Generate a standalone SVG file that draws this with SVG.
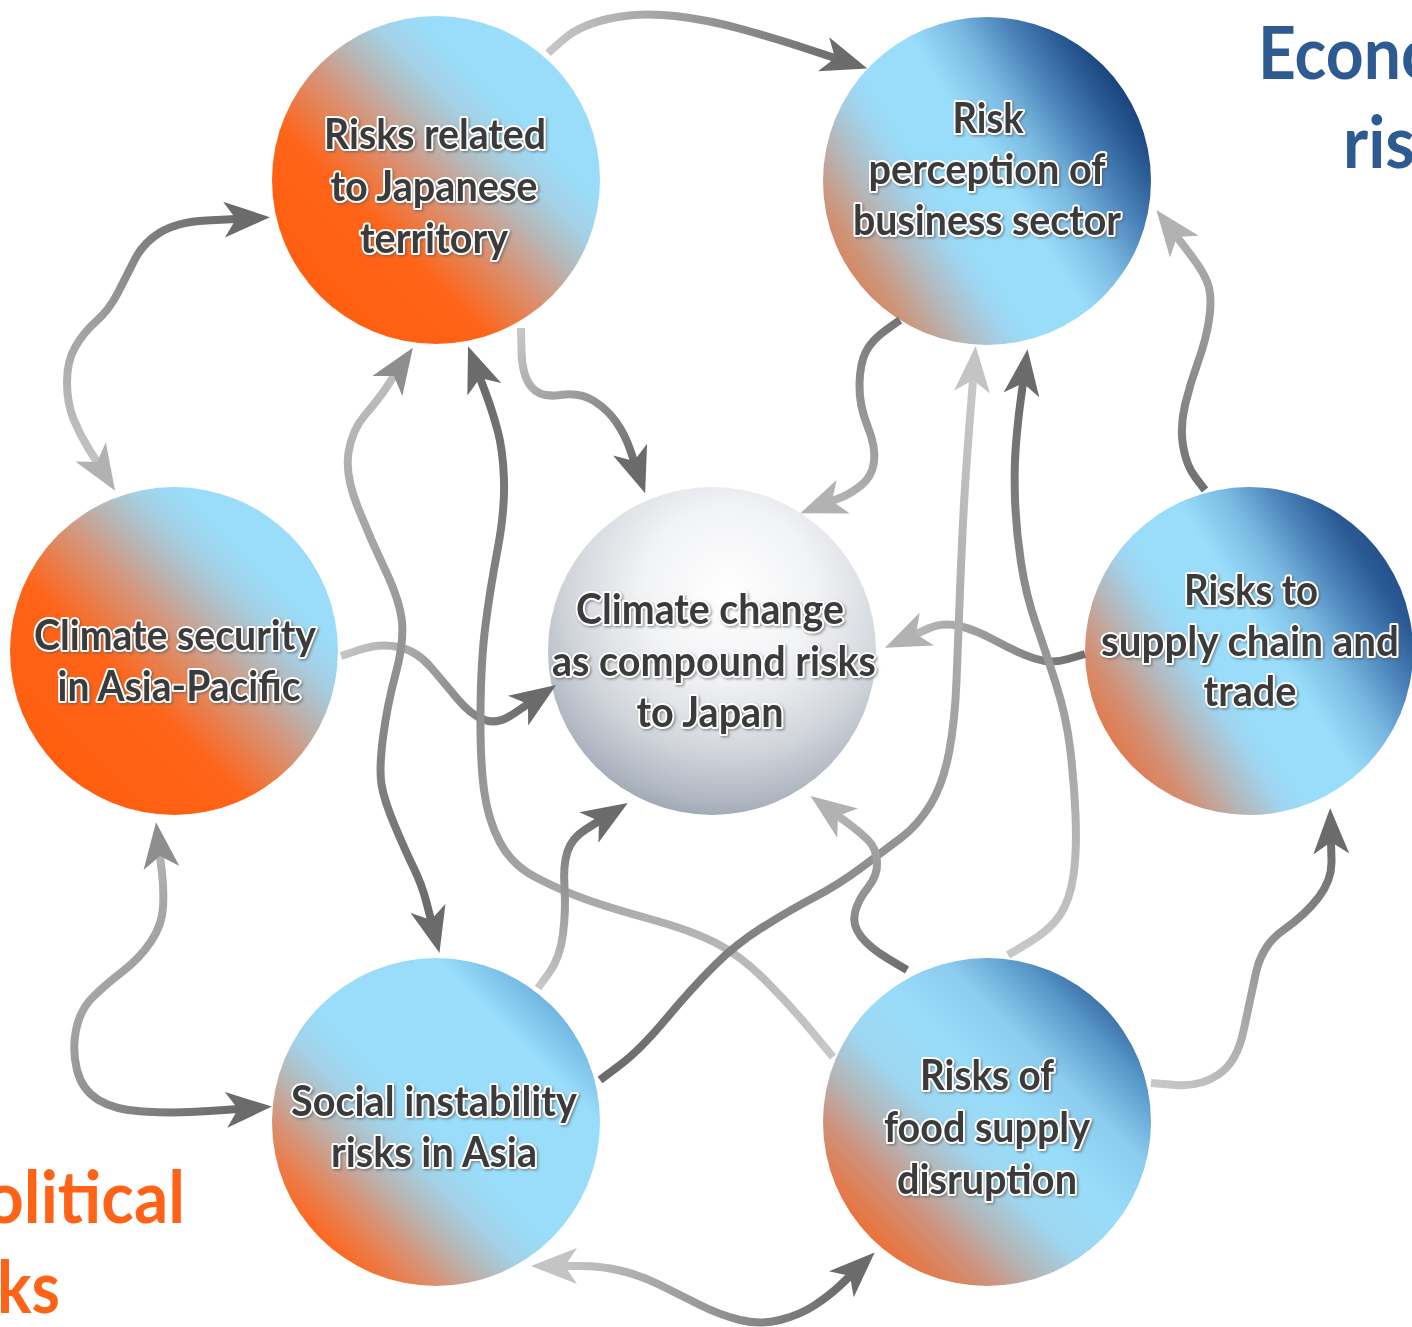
<svg xmlns="http://www.w3.org/2000/svg" width="1412" height="1327" viewBox="0 0 1412 1327">
<style>
.lbl{font-family:Lato,"Liberation Sans",sans-serif;font-weight:700;font-size:42px;fill:#3B3B3B;stroke:#FFFFFF;stroke-width:4px;paint-order:stroke;stroke-linejoin:round;text-anchor:middle}
.big{font-family:Lato,"Liberation Sans",sans-serif;font-weight:700;font-size:72px}
.conn{fill:none;stroke-width:8;stroke-linecap:butt;stroke-linejoin:round}
</style>
<defs>
<filter id="ts" x="-10%" y="-30%" width="120%" height="160%"><feDropShadow dx="1.5" dy="1.5" stdDeviation="1.2" flood-color="#555555" flood-opacity="0.55"/></filter>
<linearGradient id="gJT" x1="0" y1="1" x2="1" y2="0"><stop offset="0" stop-color="#FF5A0A"/><stop offset="0.34" stop-color="#FF6418"/><stop offset="0.47" stop-color="#DA9070"/><stop offset="0.56" stop-color="#B9B4B2"/><stop offset="0.64" stop-color="#A5D0E4"/><stop offset="0.72" stop-color="#99DDFA"/><stop offset="1" stop-color="#99DDFA"/></linearGradient>
<linearGradient id="gCS" x1="0" y1="1" x2="1" y2="0"><stop offset="0" stop-color="#FF5A0A"/><stop offset="0.38" stop-color="#FF6418"/><stop offset="0.51" stop-color="#DA9070"/><stop offset="0.6" stop-color="#B9B3B0"/><stop offset="0.68" stop-color="#A5CFE3"/><stop offset="0.76" stop-color="#99DDFA"/><stop offset="1" stop-color="#99DDFA"/></linearGradient>
<linearGradient id="gSI" x1="0" y1="1" x2="1" y2="0"><stop offset="0" stop-color="#FF5A0A"/><stop offset="0.14" stop-color="#FF6418"/><stop offset="0.25" stop-color="#DA9070"/><stop offset="0.33" stop-color="#B8B4B2"/><stop offset="0.41" stop-color="#A2D2E8"/><stop offset="0.49" stop-color="#99DDFA"/><stop offset="0.75" stop-color="#99DDFA"/><stop offset="0.86" stop-color="#6EB4E0"/><stop offset="1" stop-color="#5AA0D4"/></linearGradient>
<linearGradient id="gFS" x1="0" y1="1" x2="1" y2="0"><stop offset="0" stop-color="#FF5A0A"/><stop offset="0.12" stop-color="#F26A2A"/><stop offset="0.25" stop-color="#D09078"/><stop offset="0.34" stop-color="#B4B6B8"/><stop offset="0.43" stop-color="#9ED6F0"/><stop offset="0.55" stop-color="#99DDFA"/><stop offset="0.68" stop-color="#8CCCEE"/><stop offset="0.79" stop-color="#5A9ACB"/><stop offset="0.89" stop-color="#2F5F98"/><stop offset="1" stop-color="#1C3F75"/></linearGradient>
<linearGradient id="gRP" x1="0" y1="0.75" x2="1" y2="0.1"><stop offset="0" stop-color="#DC7E50"/><stop offset="0.09" stop-color="#CE9478"/><stop offset="0.19" stop-color="#B5B7BA"/><stop offset="0.29" stop-color="#A0D4EE"/><stop offset="0.35" stop-color="#99DDFA"/><stop offset="0.5" stop-color="#99DDFA"/><stop offset="0.62" stop-color="#79B8E0"/><stop offset="0.72" stop-color="#4D86BC"/><stop offset="0.82" stop-color="#2A5A94"/><stop offset="0.9" stop-color="#173E78"/><stop offset="1" stop-color="#143872"/></linearGradient>
<linearGradient id="gSC" x1="0" y1="0.75" x2="1" y2="0.1"><stop offset="0" stop-color="#E8703A"/><stop offset="0.12" stop-color="#D48E72"/><stop offset="0.22" stop-color="#B7B4B4"/><stop offset="0.32" stop-color="#A0D4EE"/><stop offset="0.38" stop-color="#99DDFA"/><stop offset="0.52" stop-color="#99DDFA"/><stop offset="0.64" stop-color="#79B8E0"/><stop offset="0.74" stop-color="#4D86BC"/><stop offset="0.84" stop-color="#2A5A94"/><stop offset="1" stop-color="#173E78"/></linearGradient>
<radialGradient id="gCC" cx="0.55" cy="0.32" r="0.75" fx="0.55" fy="0.32"><stop offset="0" stop-color="#FFFFFF"/><stop offset="0.35" stop-color="#F2F3F5"/><stop offset="0.65" stop-color="#D2D6DC"/><stop offset="0.85" stop-color="#B0B7C2"/><stop offset="1" stop-color="#8E98A8"/></radialGradient>
<linearGradient id="s1" gradientUnits="userSpaceOnUse" x1="548" y1="53" x2="835" y2="58"><stop offset="0" stop-color="#C6C6C6"/><stop offset="1" stop-color="#6E6E6E"/></linearGradient>
<linearGradient id="s2" gradientUnits="userSpaceOnUse" x1="97" y1="462" x2="236" y2="219"><stop offset="0" stop-color="#C2C2C2"/><stop offset="1" stop-color="#6E6E6E"/></linearGradient>
<linearGradient id="s3" gradientUnits="userSpaceOnUse" x1="521" y1="328" x2="634" y2="461"><stop offset="0" stop-color="#C8C8C8"/><stop offset="1" stop-color="#6E6E6E"/></linearGradient>
<linearGradient id="s4" gradientUnits="userSpaceOnUse" x1="900" y1="320" x2="832" y2="501"><stop offset="0" stop-color="#747474"/><stop offset="1" stop-color="#B4B4B4"/></linearGradient>
<linearGradient id="s5" gradientUnits="userSpaceOnUse" x1="341" y1="656" x2="528" y2="704"><stop offset="0" stop-color="#C6C6C6"/><stop offset="1" stop-color="#6E6E6E"/></linearGradient>
<linearGradient id="s6" gradientUnits="userSpaceOnUse" x1="1085" y1="654" x2="916" y2="634"><stop offset="0" stop-color="#6E6E6E"/><stop offset="1" stop-color="#B8B8B8"/></linearGradient>
<linearGradient id="s7" gradientUnits="userSpaceOnUse" x1="1205" y1="490" x2="1177" y2="237"><stop offset="0" stop-color="#707070"/><stop offset="1" stop-color="#B0B0B0"/></linearGradient>
<linearGradient id="s8" gradientUnits="userSpaceOnUse" x1="394" y1="376" x2="431" y2="920"><stop offset="0" stop-color="#BDBDBD"/><stop offset="1" stop-color="#6A6A6A"/></linearGradient>
<linearGradient id="s9" gradientUnits="userSpaceOnUse" x1="833" y1="1057" x2="480" y2="378"><stop offset="0" stop-color="#C8C8C8"/><stop offset="1" stop-color="#6A6A6A"/></linearGradient>
<linearGradient id="s10" gradientUnits="userSpaceOnUse" x1="538" y1="988" x2="599" y2="821"><stop offset="0" stop-color="#C8C8C8"/><stop offset="1" stop-color="#6E6E6E"/></linearGradient>
<linearGradient id="s11" gradientUnits="userSpaceOnUse" x1="600" y1="1080" x2="973" y2="380"><stop offset="0" stop-color="#6A6A6A"/><stop offset="1" stop-color="#C8C8C8"/></linearGradient>
<linearGradient id="s12" gradientUnits="userSpaceOnUse" x1="1008" y1="955" x2="1023" y2="383"><stop offset="0" stop-color="#C8C8C8"/><stop offset="1" stop-color="#6A6A6A"/></linearGradient>
<linearGradient id="s13" gradientUnits="userSpaceOnUse" x1="907" y1="970" x2="838" y2="816"><stop offset="0" stop-color="#6E6E6E"/><stop offset="1" stop-color="#B4B4B4"/></linearGradient>
<linearGradient id="s14" gradientUnits="userSpaceOnUse" x1="1151" y1="1083" x2="1331" y2="842"><stop offset="0" stop-color="#C8C8C8"/><stop offset="1" stop-color="#6E6E6E"/></linearGradient>
<linearGradient id="s15" gradientUnits="userSpaceOnUse" x1="565" y1="1266" x2="850" y2="1276"><stop offset="0" stop-color="#C4C4C4"/><stop offset="1" stop-color="#6A6A6A"/></linearGradient>
<linearGradient id="s16" gradientUnits="userSpaceOnUse" x1="60" y1="950" x2="240" y2="1110"><stop offset="0" stop-color="#B6B6B6"/><stop offset="1" stop-color="#6A6A6A"/></linearGradient>
<marker id="aD" viewBox="0 0 46 36" markerWidth="46" markerHeight="36" refX="12" refY="18" orient="auto-start-reverse" markerUnits="userSpaceOnUse"><path d="M0,0 L46,18 L0,36 L12,18 Z" fill="#6B6B6B"/></marker>
<marker id="aM" viewBox="0 0 46 36" markerWidth="46" markerHeight="36" refX="12" refY="18" orient="auto-start-reverse" markerUnits="userSpaceOnUse"><path d="M0,0 L46,18 L0,36 L12,18 Z" fill="#8E8E8E"/></marker>
<marker id="aL" viewBox="0 0 46 36" markerWidth="46" markerHeight="36" refX="12" refY="18" orient="auto-start-reverse" markerUnits="userSpaceOnUse"><path d="M0,0 L46,18 L0,36 L12,18 Z" fill="#B2B2B2"/></marker>
<marker id="aLL" viewBox="0 0 46 36" markerWidth="46" markerHeight="36" refX="12" refY="18" orient="auto-start-reverse" markerUnits="userSpaceOnUse"><path d="M0,0 L46,18 L0,36 L12,18 Z" fill="#C4C4C4"/></marker>
</defs>
<rect width="1412" height="1327" fill="#FFFFFF"/>
<g id="titles">
<text class="big" x="1258" y="79" fill="#2D5B91" textLength="181" lengthAdjust="spacingAndGlyphs">Econo</text>
<text class="big" x="1343" y="168" fill="#2D5B91" textLength="72" lengthAdjust="spacingAndGlyphs">ris</text>
<text class="big" x="-15" y="1223" fill="#FF6318" textLength="200" lengthAdjust="spacingAndGlyphs">olitical</text>
<text class="big" x="-3" y="1313" fill="#FF6318" textLength="63" lengthAdjust="spacingAndGlyphs">ks</text>
</g>
<g id="node-japan-territory">
<circle cx="436" cy="180" r="164" fill="url(#gJT)"/>
<g filter="url(#ts)">
<text class="lbl" x="435" y="149" textLength="222" lengthAdjust="spacingAndGlyphs">Risks related</text>
<text class="lbl" x="434" y="201" textLength="207" lengthAdjust="spacingAndGlyphs">to Japanese</text>
<text class="lbl" x="434" y="253" textLength="148" lengthAdjust="spacingAndGlyphs">territory</text>
</g>
</g>
<g id="node-risk-perception">
<circle cx="987" cy="181" r="164" fill="url(#gRP)"/>
<g filter="url(#ts)">
<text class="lbl" x="988" y="133" textLength="71" lengthAdjust="spacingAndGlyphs">Risk</text>
<text class="lbl" x="987" y="184" textLength="237" lengthAdjust="spacingAndGlyphs">perception of</text>
<text class="lbl" x="987" y="235" textLength="268" lengthAdjust="spacingAndGlyphs">business sector</text>
</g>
</g>
<g id="node-climate-security">
<circle cx="174" cy="651" r="164" fill="url(#gCS)"/>
<g filter="url(#ts)">
<text class="lbl" x="175" y="650" textLength="282" lengthAdjust="spacingAndGlyphs">Climate security</text>
<text class="lbl" x="179" y="701" textLength="243" lengthAdjust="spacingAndGlyphs">in Asia-Pacific</text>
</g>
</g>
<g id="node-compound-risks">
<circle cx="712" cy="651" r="164" fill="url(#gCC)"/>
<g filter="url(#ts)">
<text class="lbl" x="710" y="624" textLength="268" lengthAdjust="spacingAndGlyphs">Climate change</text>
<text class="lbl" x="714" y="676" textLength="324" lengthAdjust="spacingAndGlyphs">as compound risks</text>
<text class="lbl" x="710" y="727" textLength="147" lengthAdjust="spacingAndGlyphs">to Japan</text>
</g>
</g>
<g id="node-supply-chain">
<circle cx="1249" cy="651" r="164" fill="url(#gSC)"/>
<g filter="url(#ts)">
<text class="lbl" x="1251" y="605" textLength="134" lengthAdjust="spacingAndGlyphs">Risks to</text>
<text class="lbl" x="1250" y="656" textLength="298" lengthAdjust="spacingAndGlyphs">supply chain and</text>
<text class="lbl" x="1250" y="706" textLength="93" lengthAdjust="spacingAndGlyphs">trade</text>
</g>
</g>
<g id="node-social-instability">
<circle cx="436" cy="1122" r="164" fill="url(#gSI)"/>
<g filter="url(#ts)">
<text class="lbl" x="434" y="1116" textLength="286" lengthAdjust="spacingAndGlyphs">Social instability</text>
<text class="lbl" x="434" y="1167" textLength="206" lengthAdjust="spacingAndGlyphs">risks in Asia</text>
</g>
</g>
<g id="node-food-supply">
<circle cx="987" cy="1122" r="164" fill="url(#gFS)"/>
<g filter="url(#ts)">
<text class="lbl" x="987" y="1090" textLength="134" lengthAdjust="spacingAndGlyphs">Risks of</text>
<text class="lbl" x="987" y="1142" textLength="206" lengthAdjust="spacingAndGlyphs">food supply</text>
<text class="lbl" x="987" y="1194" textLength="180" lengthAdjust="spacingAndGlyphs">disruption</text>
</g>
</g>
<g id="connectors">
<path id="c1" class="conn" stroke="url(#s1)" marker-end="url(#aD)" d="M548,53 L564,39 Q580,25 610,18.5 Q640,12 675,16 Q710,20 745,30 Q780,40 807.5,49 L835,58"/>
<path id="c2" class="conn" stroke="url(#s2)" marker-start="url(#aL)" marker-end="url(#aD)" d="M97,462 L88.5,448.5 Q80,435 73.5,419 Q67,403 67,382 Q67,361 75.5,346.5 Q84,332 96.5,321 Q109,310 117.5,293.5 Q126,277 134.5,260 Q143,243 160,232.5 Q177,222 206.5,220.5 L236,219"/>
<path id="c3" class="conn" stroke="url(#s3)" marker-end="url(#aD)" d="M521,328 L521.5,351.5 Q522,375 531,386.5 Q540,398 560,395 Q580,392 594,401 Q608,410 616.5,422.5 Q625,435 629.5,448 L634,461"/>
<path id="c4" class="conn" stroke="url(#s4)" marker-end="url(#aL)" d="M900,320 L886,330 Q872,340 866,351.5 Q860,363 859.5,384 Q859,405 867.5,426 Q876,447 874,462 Q872,477 861,485.5 Q850,494 841,497.5 L832,501"/>
<path id="c5" class="conn" stroke="url(#s5)" marker-end="url(#aD)" d="M341,656 L360.5,649.5 Q380,643 398.5,647 Q417,651 431.5,668 Q446,685 458,699.5 Q470,714 483.5,719.5 Q497,725 512.5,714.5 L528,704"/>
<path id="c6" class="conn" stroke="url(#s6)" marker-end="url(#aL)" d="M1085,654 L1068,659 Q1051,664 1034.5,658.5 Q1018,653 997,641.5 Q976,630 959.5,626 Q943,622 929.5,628 L916,634"/>
<path id="c7" class="conn" stroke="url(#s7)" marker-end="url(#aL)" d="M1205,490 L1195.5,477.5 Q1186,465 1183,445.5 Q1180,426 1185,405 Q1190,384 1198,362 Q1206,340 1209,320 Q1212,300 1209,287.5 Q1206,275 1191.5,256 L1177,237"/>
<path id="c8" class="conn" stroke="url(#s8)" marker-start="url(#aM)" marker-end="url(#aD)" d="M394,376 L386,388 Q378,400 365,415 Q352,430 348.5,452.5 Q345,475 357.5,506.5 Q370,538 385,569.5 Q400,601 402,622 Q404,643 395.5,674.5 Q387,706 383,737.5 Q379,769 381.5,784.5 Q384,800 394.5,825 Q405,850 413.5,867.5 Q422,885 426.5,902.5 L431,920"/>
<path id="c9" class="conn" stroke="url(#s9)" marker-end="url(#aD)" d="M833,1057 L811.5,1031 Q790,1005 765,980 Q740,955 715,942.5 Q690,930 650,919 Q610,908 585,899 Q560,890 536,877.5 Q512,865 500,842.5 Q488,820 484,790 Q480,760 480.5,710 Q481,660 485.5,625 Q490,590 497.5,550 Q505,510 504,480 Q503,450 497.5,430 Q492,410 486,394 L480,378"/>
<path id="c10" class="conn" stroke="url(#s10)" marker-end="url(#aD)" d="M538,988 L549,973 Q560,958 563,934 Q566,910 564.5,887.5 Q563,865 567.5,851.5 Q572,838 585.5,829.5 L599,821"/>
<path id="c11" class="conn" stroke="url(#s11)" marker-end="url(#aLL)" d="M600,1080 L620,1065 Q640,1050 665.5,1019.5 Q691,989 713.5,966.5 Q736,944 763,927 Q790,910 814,897.5 Q838,885 861.5,867.5 Q885,850 901.5,837.5 Q918,825 930.5,804.5 Q943,784 949,752.5 Q955,721 956.5,680.5 Q958,640 960,590 Q962,540 964,504 Q966,468 969.5,424 L973,380"/>
<path id="c12" class="conn" stroke="url(#s12)" marker-end="url(#aD)" d="M1008,955 L1029,942.5 Q1050,930 1060,915 Q1070,900 1073.5,875 Q1077,850 1075.5,815 Q1074,780 1070,747.5 Q1066,715 1055.5,682.5 Q1045,650 1035.5,622.5 Q1026,595 1021,562.5 Q1016,530 1015,499 Q1014,468 1016,444 Q1018,420 1020.5,401.5 L1023,383"/>
<path id="c13" class="conn" stroke="url(#s13)" marker-end="url(#aL)" d="M907,970 L888.5,959 Q870,948 861,936.5 Q852,925 855,912.5 Q858,900 868,887.5 Q878,875 877,861.5 Q876,848 868,840 Q860,832 849,824 L838,816"/>
<path id="c14" class="conn" stroke="url(#s14)" marker-end="url(#aD)" d="M1151,1083 L1175.5,1085 Q1200,1087 1218.5,1074.5 Q1237,1062 1243.5,1031 Q1250,1000 1256,972.5 Q1262,945 1283.5,930 Q1305,915 1318.5,897.5 Q1332,880 1331.5,861 L1331,842"/>
<path id="c15" class="conn" stroke="url(#s15)" marker-start="url(#aLL)" marker-end="url(#aD)" d="M565,1266 L582.5,1266 Q600,1266 620,1270.5 Q640,1275 660,1285 Q680,1295 700,1305 Q720,1315 740,1320 Q760,1325 780,1320 Q800,1315 815,1305 Q830,1295 840,1285.5 L850,1276"/>
<path id="c16" class="conn" stroke="url(#s16)" marker-start="url(#aM)" marker-end="url(#aD)" d="M160,856 L162,873 Q164,890 163,907.5 Q162,925 151,941.5 Q140,958 122.5,971.5 Q105,985 92.5,997.5 Q80,1010 76,1030 Q72,1050 77,1070 Q82,1090 98.5,1100 Q115,1110 142.5,1111.5 Q170,1113 190,1112 Q210,1111 224,1110 L238,1109"/>
</g>
</svg>
